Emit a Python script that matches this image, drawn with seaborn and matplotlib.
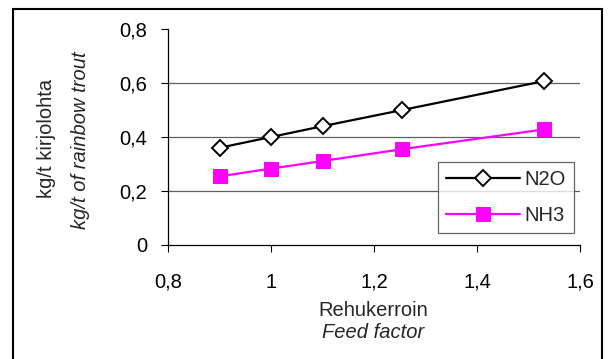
import matplotlib
matplotlib.use("Agg")
import matplotlib.pyplot as plt
import seaborn as sns
import pandas as pd
from matplotlib.patches import Rectangle

feed_factor = [0.9, 1.0, 1.1, 1.255, 1.53]
n2o = [0.36, 0.40, 0.44, 0.50, 0.607]
nh3 = [0.254, 0.283, 0.311, 0.355, 0.428]
series_names = ["N2O", "NH3"]
x_ticks = [0.8, 1.0, 1.2, 1.4, 1.6]
x_tick_labels = ["0,8", "1", "1,2", "1,4", "1,6"]
y_ticks = [0, 0.2, 0.4, 0.6, 0.8]
y_tick_labels = ["0", "0,2", "0,4", "0,6", "0,8"]

sns.set_theme(style="white")
plt.rcParams['font.family'] = ['Liberation Sans', 'DejaVu Sans']
FS = 14.5

df = pd.DataFrame({"x": feed_factor * 2,
                   "y": n2o + nh3,
                   "series": [series_names[0]] * len(n2o) + [series_names[1]] * len(nh3)})

fig = plt.figure(figsize=(6.08, 3.59), dpi=100)
ax = fig.add_axes([168/608, 1-245/359, (580-168)/608, (245-29)/359])

d1 = df[df.series == "N2O"]
d2 = df[df.series == "NH3"]
sns.lineplot(data=d1, x="x", y="y", ax=ax, color="black", lw=1.6,
             marker="D", markersize=8.5, markerfacecolor="white",
             markeredgecolor="black", markeredgewidth=1.4, label="N2O", zorder=4)
sns.lineplot(data=d2, x="x", y="y", ax=ax, color="#ff00ff", lw=1.6,
             marker="s", markersize=9.5, markerfacecolor="#ff00ff",
             markeredgecolor="#ff00ff", label="NH3", zorder=3)

ax.set_xlim(0.8, 1.6)
ax.set_ylim(0, 0.8)
ax.set_xticks(x_ticks)
ax.set_xticklabels(x_tick_labels)
ax.set_yticks(y_ticks)
ax.set_yticklabels(y_tick_labels)
ax.tick_params(axis="both", direction="out", length=5, width=0.8, color="black",
               labelsize=FS, labelcolor="black")
ax.tick_params(axis="y", pad=10)
ax.tick_params(axis="x", pad=15)
ax.tick_params(left=True, bottom=True)
for y in y_ticks[1:-1]:
    ax.axhline(y, color="#606060", lw=0.9, zorder=1)
for s in ["top", "right"]:
    ax.spines[s].set_visible(False)
for s in ["left", "bottom"]:
    ax.spines[s].set_color("black")
    ax.spines[s].set_linewidth(0.9)
ax.set_xlabel("")
ax.set_ylabel("")

leg = ax.legend(loc="upper left", bbox_to_anchor=((437.7-168)/412, 1-(161.7-29)/216),
                frameon=True, fancybox=False, fontsize=FS, handlelength=3.7,
                borderpad=0.4, labelspacing=0.85, handletextpad=0.2, borderaxespad=0)
leg.get_frame().set_edgecolor("#404040")
leg.get_frame().set_linewidth(0.9)
leg.set_zorder(5)

fig.text(47/608, 1-138/359, "kg/t kirjolohta", rotation=90, ha="center", va="center",
         fontsize=FS)
fig.text(80/608, 1-140/359, "kg/t of rainbow trout", rotation=90, ha="center", va="center",
         fontsize=FS, style="italic")
fig.text(373/608, 1-310/359, "Rehukerroin", ha="center", va="center", fontsize=FS)
fig.text(373/608, 1-333/359, "Feed factor", ha="center", va="center", fontsize=FS,
         style="italic")

fig.patches.append(Rectangle((12.5/608, -0.02), (602-12.5)/608, 1.02-9/359,
                             transform=fig.transFigure, fill=False, edgecolor="black",
                             lw=1.5, zorder=10))

fig.savefig("out.png", dpi=100)
